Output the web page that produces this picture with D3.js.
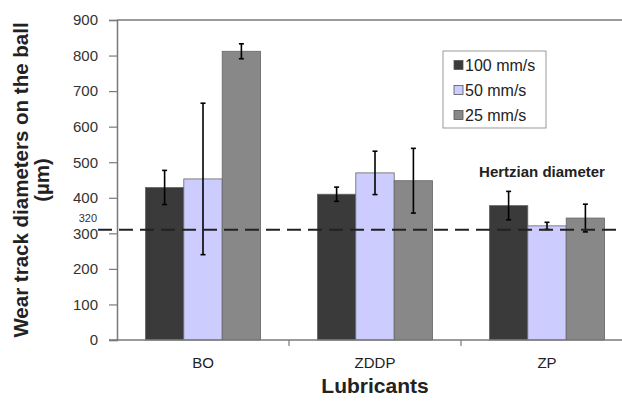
<!DOCTYPE html>
<html><head><meta charset="utf-8">
<script src="https://cdn.jsdelivr.net/npm/d3@7"></script>
<style>body{margin:0;background:#fff}svg{display:block}text{font-family:"Liberation Sans",Arial,sans-serif}</style>
</head><body>
<svg id="c" width="622" height="402"></svg>
<script>
const categories = ["BO", "ZDDP", "ZP"];
const seriesNames = ["100 mm/s", "50 mm/s", "25 mm/s"];
const v100 = [429, 410, 378];
const v50 = [453, 470, 321];
const v25 = [812, 448, 343];
const e100 = [48, 20, 40];
const e50 = [213, 61, 10];
const e25 = [21, 91, 39];
const yTicks = [0, 100, 200, 300, 400, 500, 600, 700, 800, 900];
const hertzValue = 310;
const hertzLabel = "320";
const colors = ["#3a3a3a", "#ccccff", "#888888"];

(function () {
const values = [v100, v50, v25];
const errors = [e100, e50, e25];
const svg = d3.select("#c");
const mLeft = 117, mRight = 633, mTop = 20, mBottom = 340;
const x = d3.scaleBand().domain(categories).range([mLeft, mRight]).paddingInner(0).paddingOuter(0);
const xs = d3.scaleBand().domain(seriesNames).range([0, x.bandwidth()]).paddingInner(0).paddingOuter(0.74);
const y = d3.scaleLinear().domain([0, 900]).range([mBottom, mTop]);

svg.append("line").attr("x1", mLeft).attr("x2", 622).attr("y1", y(900)).attr("y2", y(900)).attr("stroke", "#7a7a7a").attr("stroke-width", 1.5);

seriesNames.forEach((s, si) => {
  svg.append("g").selectAll("rect").data(categories).join("rect")
    .attr("x", c => x(c) + xs(s))
    .attr("y", (c, i) => y(values[si][i]))
    .attr("width", xs.bandwidth())
    .attr("height", (c, i) => y(0) - y(values[si][i]))
    .attr("fill", colors[si]).attr("stroke", "#666").attr("stroke-width", 0.8);
});

seriesNames.forEach((s, si) => {
  const g = svg.append("g").attr("stroke", "#000").attr("stroke-width", 1.6);
  categories.forEach((c, i) => {
    const cx = x(c) + xs(s) + xs.bandwidth() / 2;
    const hi = y(values[si][i] + errors[si][i]), lo = y(values[si][i] - errors[si][i]);
    g.append("line").attr("x1", cx).attr("x2", cx).attr("y1", hi).attr("y2", lo);
    g.append("line").attr("x1", cx - 2.5).attr("x2", cx + 2.5).attr("y1", hi).attr("y2", hi);
    g.append("line").attr("x1", cx - 2.5).attr("x2", cx + 2.5).attr("y1", lo).attr("y2", lo);
  });
});

const ya = svg.append("g").attr("transform", `translate(${mLeft},0)`)
  .call(d3.axisLeft(y).tickValues(yTicks).tickSize(8).tickPadding(11));
ya.select(".domain").attr("stroke", "#7a7a7a").attr("stroke-width", 1.5);
ya.selectAll(".tick line").attr("stroke", "#7a7a7a").attr("stroke-width", 1.2);
ya.selectAll("text").attr("font-size", 15).attr("fill", "#333");

const xa = svg.append("g").attr("transform", `translate(0,${mBottom})`)
  .call(d3.axisBottom(x).tickSize(0).tickPadding(17));
xa.select(".domain").remove();
xa.selectAll("text").attr("font-size", 15).attr("fill", "#222");
svg.append("line").attr("x1", mLeft - 8).attr("x2", 622).attr("y1", mBottom).attr("y2", mBottom).attr("stroke", "#7a7a7a").attr("stroke-width", 1.5);
svg.append("g").selectAll("line").data(categories.slice(1)).join("line")
  .attr("x1", c => x(c)).attr("x2", c => x(c)).attr("y1", mBottom).attr("y2", mBottom + 6)
  .attr("stroke", "#7a7a7a").attr("stroke-width", 1.2);

svg.append("line").attr("x1", 98).attr("x2", 622).attr("y1", y(hertzValue)).attr("y2", y(hertzValue))
  .attr("stroke", "#222").attr("stroke-width", 2).attr("stroke-dasharray", "14,7");
svg.append("text").attr("x", 97).attr("y", y(hertzValue) - 7.5).attr("text-anchor", "end")
  .attr("font-size", 11).attr("fill", "#333").text(hertzLabel);
svg.append("text").attr("x", 542).attr("y", 177).attr("text-anchor", "middle")
  .attr("font-size", 15).attr("font-weight", "bold").attr("fill", "#222").text("Hertzian diameter");

const lg = svg.append("g").attr("transform", "translate(443,51)");
lg.append("rect").attr("width", 103).attr("height", 77).attr("fill", "#fff").attr("stroke", "#999").attr("stroke-width", 1);
seriesNames.forEach((s, i) => {
  lg.append("rect").attr("x", 11).attr("y", 9.5 + i * 25).attr("width", 9).attr("height", 9)
    .attr("fill", colors[i]).attr("stroke", "#555").attr("stroke-width", 0.8);
  lg.append("text").attr("x", 22).attr("y", 19.5 + i * 25).attr("font-size", 16).attr("fill", "#222").text(s);
});

svg.append("text").attr("transform", `translate(28,${(mTop + mBottom) / 2}) rotate(-90)`)
  .attr("text-anchor", "middle").attr("font-size", 20.5).attr("font-weight", "bold").attr("fill", "#222")
  .text("Wear track diameters on the ball");
svg.append("text").attr("transform", `translate(49,${(mTop + mBottom) / 2}) rotate(-90)`)
  .attr("text-anchor", "middle").attr("font-size", 20.5).attr("font-weight", "bold").attr("fill", "#222")
  .text("(µm)");
svg.append("text").attr("x", x("ZDDP") + x.bandwidth() / 2).attr("y", 393).attr("text-anchor", "middle")
  .attr("font-size", 21).attr("font-weight", "bold").attr("fill", "#222").text("Lubricants");
})();
</script>
</body></html>
